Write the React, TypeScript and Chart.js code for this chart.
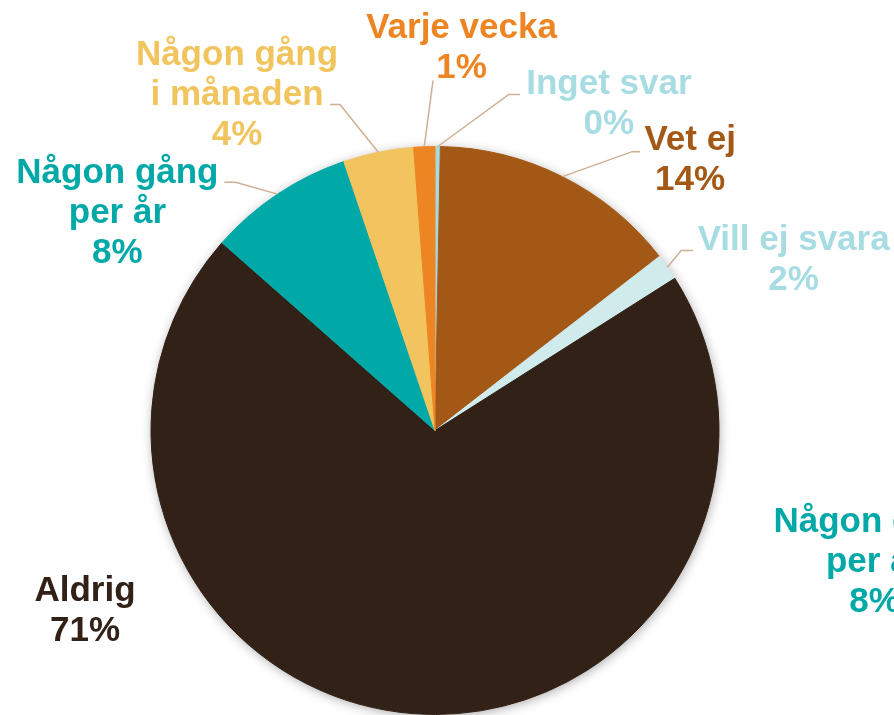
import React, { useEffect, useRef } from "react";
import { Chart, registerables } from "chart.js";

Chart.register(...registerables);

// ---- data ----
const categories = [
  "Inget svar",
  "Vet ej",
  "Vill ej svara",
  "Aldrig",
  "Någon gång per år",
  "Någon gång i månaden",
  "Varje vecka",
];
const labelLines = [
  ["Inget svar"],
  ["Vet ej"],
  ["Vill ej svara"],
  ["Aldrig"],
  ["Någon gång", "per år"],
  ["Någon gång", "i månaden"],
  ["Varje vecka"],
];
const values = [0.3, 14.2, 1.5, 70.5, 8.3, 4.0, 1.2];

// text from the neighbouring chart, cut off at the right edge
const sideLabelLines = ["Någon gång", "per år", "8%"];

// ---- styles ----
const sliceColors = ["#A6DAE0", "#A45816", "#D0EBEC", "#312116", "#00A8A8", "#F2C45E", "#EE8523"];
const labelColors = ["#A8DCE3", "#A45816", "#A8DCE3", "#312116", "#00A8A8", "#F2C45E", "#EE8523"];
// label block (centre x, first baseline) relative to the slice's outer mid-point
const labelOffsets: number[][] = [
  [171.2, -53],
  [127.8, -27],
  [126.3, -16.7],
  [-327.7, -112.2],
  [-160.2, -11.1],
  [-141.3, -87.7],
  [37.2, -109.2],
];
// leader line end relative to the slice's outer mid-point, plus the horizontal elbow length
const leaderEnds: (number[] | null)[] = [
  [82.2, -52, -11],
  [77.8, -25, -8],
  [25.8, -16.7, -12],
  null,
  [-53.2, -11.8, 11],
  [-48.3, -47.7, 10],
  [8.7, -66.2, 0],
];
const sideLabelOffset = [439.6, 101.5];
const FONT = "bold 35px 'Liberation Sans', Arial, sans-serif";
const LINE_H = 40;

const extrasPlugin = {
  id: "pieExtras",
  beforeDatasetsDraw(chart: any) {
    const meta = chart.getDatasetMeta(0);
    const first = meta.data[0];
    if (!first) return;
    const { x, y, outerRadius } = first.getProps(["x", "y", "outerRadius"], true);
    const ctx = chart.ctx;
    ctx.save();
    ctx.shadowColor = "rgba(0,0,0,0.38)";
    ctx.shadowBlur = 12;
    ctx.shadowOffsetX = 1;
    ctx.shadowOffsetY = 2;
    ctx.fillStyle = "#ffffff";
    ctx.beginPath();
    ctx.arc(x, y, outerRadius - 1, 0, Math.PI * 2);
    ctx.fill();
    ctx.restore();
  },
  afterDatasetsDraw(chart: any) {
    const meta = chart.getDatasetMeta(0);
    const ctx = chart.ctx;
    const total = values.reduce((a, b) => a + b, 0);
    let cx = 0;
    let cy = 0;
    meta.data.forEach((arc: any, i: number) => {
      const { x, y, startAngle, endAngle, outerRadius } = arc.getProps(
        ["x", "y", "startAngle", "endAngle", "outerRadius"],
        true
      );
      cx = x;
      cy = y;
      const mid = (startAngle + endAngle) / 2;
      const px = x + Math.cos(mid) * outerRadius;
      const py = y + Math.sin(mid) * outerRadius;

      const le = leaderEnds[i];
      if (le) {
        const ex = px + le[0];
        const ey = py + le[1];
        ctx.save();
        ctx.strokeStyle = "#CDB092";
        ctx.lineWidth = 1.5;
        ctx.beginPath();
        ctx.moveTo(px, py);
        ctx.lineTo(ex + le[2], ey);
        ctx.lineTo(ex, ey);
        ctx.stroke();
        ctx.restore();
      }

      const lines = [...labelLines[i], Math.round((values[i] * 100) / total) + "%"];
      const lx = px + labelOffsets[i][0];
      const ly = py + labelOffsets[i][1];
      ctx.save();
      ctx.font = FONT;
      ctx.fillStyle = labelColors[i];
      ctx.textAlign = "center";
      ctx.textBaseline = "alphabetic";
      lines.forEach((t, k) => ctx.fillText(t, lx, ly + k * LINE_H));
      ctx.restore();
    });

    ctx.save();
    ctx.font = FONT;
    ctx.fillStyle = labelColors[4];
    ctx.textAlign = "center";
    ctx.textBaseline = "alphabetic";
    sideLabelLines.forEach((t, k) =>
      ctx.fillText(t, cx + sideLabelOffset[0], cy + sideLabelOffset[1] + k * LINE_H)
    );
    ctx.restore();
  },
};

export default function App() {
  const ref = useRef<HTMLCanvasElement | null>(null);
  useEffect(() => {
    document.body.style.margin = "0";
    if (!ref.current) return;
    const chart = new Chart(ref.current, {
      type: "pie",
      data: {
        labels: categories,
        datasets: [
          {
            data: values,
            backgroundColor: sliceColors,
            borderColor: sliceColors,
            borderWidth: 1,
          },
        ],
      },
      options: {
        responsive: false,
        animation: false,
        devicePixelRatio: 1,
        layout: { padding: { top: 146, bottom: 0, left: 150.5, right: 174.5 } },
        plugins: {
          legend: { display: false },
          tooltip: { enabled: false },
        },
      },
      plugins: [extrasPlugin],
    });
    return () => chart.destroy();
  }, []);
  return (
    <canvas ref={ref} width={894} height={715} style={{ display: "block" }} />
  );
}
